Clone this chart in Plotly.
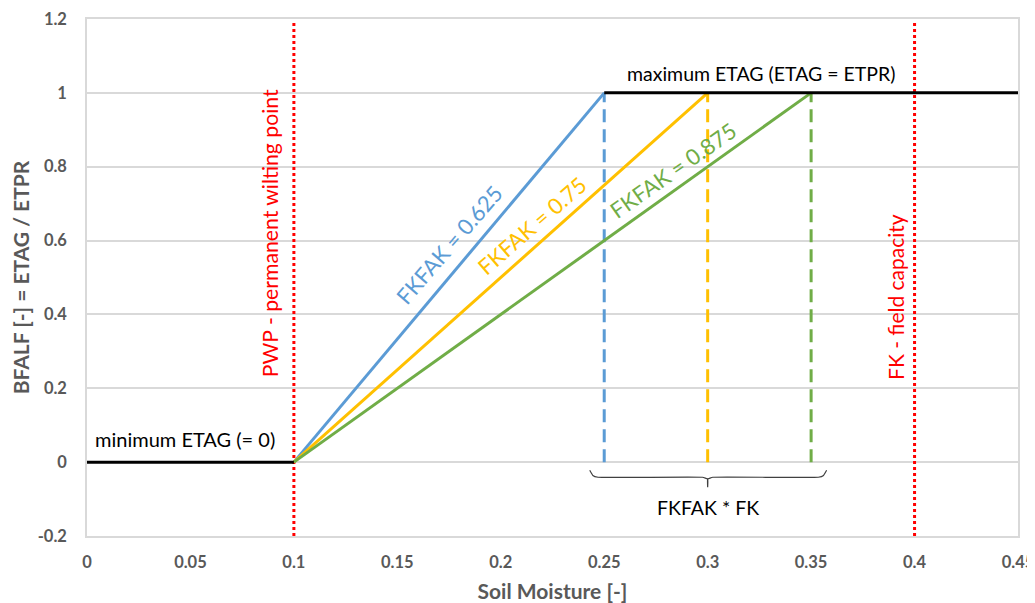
import plotly.graph_objects as go

# ---- data ----
pwp = 0.1
fk = 0.4
fkfak_values = [0.625, 0.75, 0.875]
fkfak_labels = ["FKFAK = 0.625", "FKFAK = 0.75", "FKFAK = 0.875"]
ramp_start_x = [0.1, 0.1, 0.1]
ramp_end_x = [0.25, 0.30, 0.35]
ramp_colors = ["#5B9BD5", "#FFC000", "#70AD47"]
min_line_x = [0.0, 0.1]
min_line_y = [0.0, 0.0]
max_line_x = [0.25, 0.45]
max_line_y = [1.0, 1.0]
x_ticks = [0, 0.05, 0.1, 0.15, 0.2, 0.25, 0.3, 0.35, 0.4, 0.45]
x_tick_text = ["0", "0.05", "0.1", "0.15", "0.2", "0.25", "0.3", "0.35", "0.4", "0.45"]
y_ticks = [-0.2, 0, 0.2, 0.4, 0.6, 0.8, 1.0, 1.2]
y_tick_text = ["-0.2", "0", "0.2", "0.4", "0.6", "0.8", "1", "1.2"]

# label positions (data coords) and angles
label_x = [0.175, 0.215, 0.283]
label_y = [0.59, 0.642, 0.79]
label_angle = [-49, -41, -35]

# brace under the dashed lines
brace_x = [0.2430, 0.2445, 0.2470, 0.2975, 0.3, 0.3, 0.3, 0.3025, 0.3535, 0.3560, 0.3575]
brace_y = [-0.022, -0.036, -0.041, -0.041, -0.046, -0.068, -0.046, -0.041, -0.041, -0.036, -0.022]

fig = go.Figure()

GRID = "#D9D9D9"
TICKC = "#595959"
FONT = "Lato, Liberation Sans, Arial, sans-serif"

# red dotted reference lines
for xv in [pwp, fk]:
    fig.add_trace(go.Scatter(x=[xv, xv], y=[-0.2, 1.19], mode="lines",
                             line=dict(color="#FF0000", width=3, dash="3px,3px"),
                             hoverinfo="skip", showlegend=False))

# dashed verticals
for xe, c in zip(ramp_end_x, ramp_colors):
    fig.add_trace(go.Scatter(x=[xe, xe], y=[0, 1], mode="lines",
                             line=dict(color=c, width=3, dash="13px,7px"),
                             hoverinfo="skip", showlegend=False))

# ramps
for xs, xe, c in zip(ramp_start_x, ramp_end_x, ramp_colors):
    fig.add_trace(go.Scatter(x=[xs, xe], y=[0, 1], mode="lines",
                             line=dict(color=c, width=3), showlegend=False))

# min / max lines
fig.add_trace(go.Scatter(x=min_line_x, y=min_line_y, mode="lines",
                         line=dict(color="black", width=3), showlegend=False))
fig.add_trace(go.Scatter(x=max_line_x, y=max_line_y, mode="lines",
                         line=dict(color="black", width=3), showlegend=False))

# brace
fig.add_trace(go.Scatter(x=brace_x, y=brace_y, mode="lines",
                         line=dict(color="#404040", width=1.2, shape="spline", smoothing=0.3),
                         hoverinfo="skip", showlegend=False))

annotations = []
for t, xv, yv, a, c in zip(fkfak_labels, label_x, label_y, label_angle, ramp_colors):
    annotations.append(dict(x=xv, y=yv, text=t, textangle=a, showarrow=False,
                            font=dict(size=22, color=c, family=FONT)))
annotations += [
    dict(x=0.0474, y=0.062, text="minimum ETAG (= 0)", showarrow=False,
         font=dict(size=20, color="black", family=FONT)),
    dict(x=0.326, y=1.053, text="maximum ETAG (ETAG = ETPR)", showarrow=False,
         font=dict(size=19.5, color="black", family=FONT)),
    dict(x=0.3, y=-0.122, text="FKFAK * FK", showarrow=False,
         font=dict(size=19.5, color="black", family=FONT)),
    dict(x=0.0885, y=0.62, text="PWP - permanent wilting point", textangle=-90, showarrow=False,
         font=dict(size=21.2, color="#FF0000", family=FONT)),
    dict(x=0.3905, y=0.447, text="FK - field capacity", textangle=-90, showarrow=False,
         font=dict(size=21, color="#FF0000", family=FONT)),
]

# the page body adds an 8px margin, so the figure is 8px smaller and margins shifted
fig.update_layout(
    width=1027, height=595,
    margin=dict(l=79, r=17, t=11, b=67),
    plot_bgcolor="white", paper_bgcolor="white",
    font=dict(family=FONT),
    annotations=annotations,
    xaxis=dict(range=[0, 0.45], tickvals=x_ticks, ticktext=x_tick_text, automargin=False,
               showgrid=False, zeroline=False, showline=True, linecolor=GRID, linewidth=1.5,
               mirror=True, ticks="outside", ticklen=10, tickcolor="rgba(0,0,0,0)",
               tickfont=dict(size=16.5, color=TICKC, family=FONT, weight="bold"),
               title=dict(text="Soil Moisture [-]", standoff=15,
                          font=dict(size=21, color=TICKC, family=FONT, weight="bold"))),
    yaxis=dict(range=[-0.2, 1.2], tickvals=y_ticks, ticktext=y_tick_text, automargin=False,
               showgrid=True, gridcolor=GRID, gridwidth=1.5, zeroline=False,
               showline=True, linecolor=GRID, linewidth=1.5, mirror=True,
               ticks="outside", ticklen=15, tickcolor="rgba(0,0,0,0)",
               tickfont=dict(size=16.5, color=TICKC, family=FONT, weight="bold"),
               title=dict(text="BFALF [-] = ETAG / ETPR", standoff=6,
                          font=dict(size=21, color=TICKC, family=FONT, weight="bold"))),
)

fig.write_html("out.html")
